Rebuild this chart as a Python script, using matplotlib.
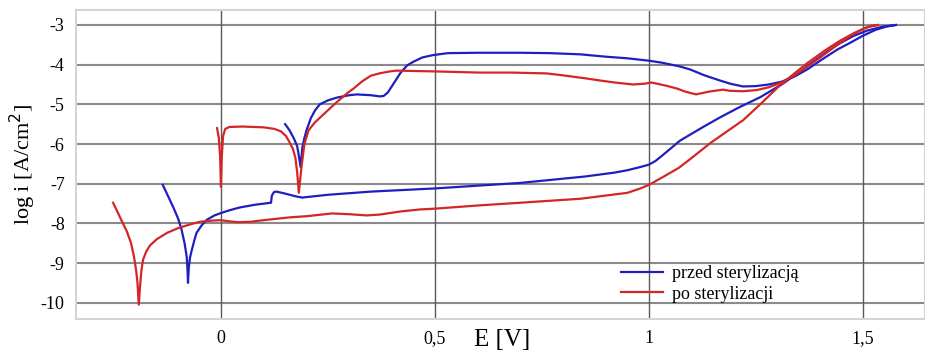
import matplotlib.pyplot as plt

# przed sterylizacją - forward scan
E_przed_fwd = [-0.136, -0.125, -0.112, -0.1, -0.092, -0.085, -0.08, -0.078, -0.077, -0.075,
               -0.072, -0.068, -0.062, -0.057, -0.045, -0.033, -0.015, 0.0, 0.02, 0.044,
               0.08, 0.117, 0.119, 0.124, 0.13, 0.15, 0.175, 0.19, 0.25, 0.35, 0.5, 0.7,
               0.85, 0.92, 0.95, 0.98, 1.0, 1.015, 1.03, 1.05, 1.072, 1.1, 1.13, 1.166,
               1.21, 1.26, 1.31, 1.35, 1.383, 1.415, 1.44, 1.477, 1.51, 1.547, 1.577]
i_przed_fwd = [-7.03, -7.28, -7.58, -7.88, -8.16, -8.5, -8.84, -9.2, -9.5, -9.1,
               -8.85, -8.67, -8.42, -8.24, -8.05, -7.91, -7.8, -7.74, -7.67, -7.6,
               -7.53, -7.48, -7.3, -7.21, -7.2, -7.25, -7.32, -7.35, -7.28, -7.2, -7.12, -6.98,
               -6.82, -6.72, -6.66, -6.58, -6.52, -6.43, -6.3, -6.12, -5.92, -5.74, -5.55, -5.33,
               -5.08, -4.82, -4.5, -4.2, -3.93, -3.68, -3.5, -3.28, -3.14, -3.04, -3.0]

# przed sterylizacją - reverse scan
E_przed_rev = [1.577, 1.555, 1.53, 1.5, 1.47, 1.44, 1.40, 1.37, 1.34, 1.31, 1.28, 1.25, 1.22,
               1.19, 1.166, 1.13, 1.096, 1.07, 1.03, 1.0, 0.95, 0.9, 0.84, 0.77, 0.7, 0.6,
               0.53, 0.495, 0.47, 0.449, 0.435, 0.42, 0.405, 0.39, 0.38, 0.371, 0.35, 0.318,
               0.3, 0.271, 0.25, 0.231, 0.22, 0.21, 0.2, 0.195, 0.19, 0.186, 0.182, 0.178,
               0.17, 0.16, 0.15]
i_przed_rev = [-3.0, -3.04, -3.12, -3.27, -3.45, -3.62, -3.9, -4.12, -4.3, -4.43, -4.5, -4.54, -4.55,
               -4.48, -4.4, -4.27, -4.12, -4.04, -3.95, -3.9, -3.84, -3.8, -3.74, -3.71, -3.7, -3.7,
               -3.71, -3.76, -3.82, -3.93, -4.02, -4.2, -4.45, -4.7, -4.79, -4.8, -4.77, -4.75,
               -4.77, -4.83, -4.9, -5.0, -5.15, -5.35, -5.65, -5.85, -6.1, -6.58, -6.3, -6.05,
               -5.85, -5.65, -5.5]

# po sterylizacji - forward scan
E_po_fwd = [-0.252, -0.24, -0.23, -0.22, -0.21, -0.203, -0.198, -0.195, -0.192, -0.189,
            -0.186, -0.182, -0.175, -0.166, -0.15, -0.126, -0.1, -0.07, -0.049, -0.02,
            0.0, 0.02, 0.04, 0.07, 0.1, 0.16, 0.2, 0.26, 0.3, 0.34, 0.37, 0.42, 0.465,
            0.5, 0.6, 0.7, 0.84, 0.95, 0.98, 1.0, 1.033, 1.07, 1.1, 1.143, 1.18, 1.22,
            1.26, 1.306, 1.34, 1.369, 1.41, 1.446, 1.48, 1.509, 1.535]
i_po_fwd = [-7.48, -7.75, -7.98, -8.2, -8.5, -8.85, -9.2, -9.5, -10.05, -9.6,
            -9.2, -8.92, -8.72, -8.56, -8.4, -8.24, -8.12, -8.02, -7.96, -7.93,
            -7.92, -7.95, -7.97, -7.96, -7.92, -7.85, -7.82, -7.75, -7.77, -7.8, -7.78, -7.7, -7.65,
            -7.63, -7.55, -7.48, -7.38, -7.23, -7.12, -7.03, -6.83, -6.6, -6.35, -5.98, -5.7, -5.4,
            -5.0, -4.52, -4.22, -3.97, -3.65, -3.4, -3.2, -3.06, -3.0]

# po sterylizacji - reverse scan
E_po_rev = [1.535, 1.52, 1.5, 1.47, 1.44, 1.40, 1.37, 1.34, 1.31, 1.28, 1.252, 1.22, 1.19,
            1.173, 1.14, 1.11, 1.085, 1.065, 1.04, 1.015, 1.005, 0.99, 0.963, 0.92, 0.886,
            0.855, 0.8, 0.76, 0.68, 0.605, 0.5, 0.45, 0.41, 0.395, 0.37, 0.35, 0.33, 0.31,
            0.295, 0.27, 0.238, 0.22, 0.205, 0.195, 0.188, 0.182, 0.178, 0.174, 0.168, 0.161,
            0.152, 0.14, 0.125, 0.10, 0.05, 0.02, 0.01, 0.005, 0.002, 0.0, -0.002, -0.005, -0.009]
i_po_rev = [-3.0, -3.02, -3.1, -3.28, -3.5, -3.82, -4.05, -4.27, -4.45, -4.57, -4.64, -4.67, -4.66,
            -4.63, -4.68, -4.75, -4.68, -4.6, -4.53, -4.47, -4.45, -4.48, -4.5, -4.45, -4.4,
            -4.35, -4.27, -4.22, -4.2, -4.2, -4.17, -4.16, -4.15, -4.17, -4.22, -4.28, -4.42, -4.6,
            -4.72, -4.95, -5.27, -5.45, -5.65, -6.0, -6.6, -7.23, -6.7, -6.35, -6.12, -5.97,
            -5.8, -5.68, -5.62, -5.58, -5.56, -5.57, -5.62, -5.8, -6.3, -7.08, -6.3, -5.85, -5.6]

x_ticks = [0, 0.5, 1, 1.5]
x_tick_labels = ["0", "0,5", "1", "1,5"]
y_ticks = [-3, -4, -5, -6, -7, -8, -9, -10]

blue = "#1f1fc0"
red = "#d42626"

plt.rcParams['font.family'] = ['Liberation Serif', 'DejaVu Serif']
plt.rcParams['axes.unicode_minus'] = False

fig = plt.figure(figsize=(9.25, 3.54), dpi=100)
ax = fig.add_axes([0.082, 0.099, 0.918, 0.873])

ax.plot(E_przed_fwd, i_przed_fwd, color=blue, lw=1.6, label="przed sterylizacją")
ax.plot(E_przed_rev, i_przed_rev, color=blue, lw=1.6)
ax.plot(E_po_fwd, i_po_fwd, color=red, lw=1.6, label="po sterylizacji")
ax.plot(E_po_rev, i_po_rev, color=red, lw=1.6)

ax.set_xlim(-0.339, 1.645)
ax.set_ylim(-10.41, -2.62)

ax.set_xticks(x_ticks)
ax.set_xticklabels(x_tick_labels)
ax.set_yticks(y_ticks)
ax.tick_params(length=0, labelsize=13, pad=8)

for y in y_ticks:
    ax.axhline(y, color="#8a8a8a", lw=1.5, zorder=0)
for x in x_ticks:
    ax.axvline(x, color="#5a5a5a", lw=1.0, zorder=0)

for side in ax.spines.values():
    side.set_color("#d4d4d4")
    side.set_linewidth(1.5)

ax.set_ylabel("log i [A/cm$^2$]", fontsize=16)
ax.yaxis.set_label_coords(-0.044, 0.5)
ax.text(0.502, -0.068, "E [V]", transform=ax.transAxes, fontsize=18,
        ha="center", va="center")

ax.legend(loc="lower right", bbox_to_anchor=(0.87, 0.0), frameon=False,
          fontsize=13, handlelength=2.3, handletextpad=0.5, labelspacing=0.2)

fig.savefig("out.png", dpi=100)
